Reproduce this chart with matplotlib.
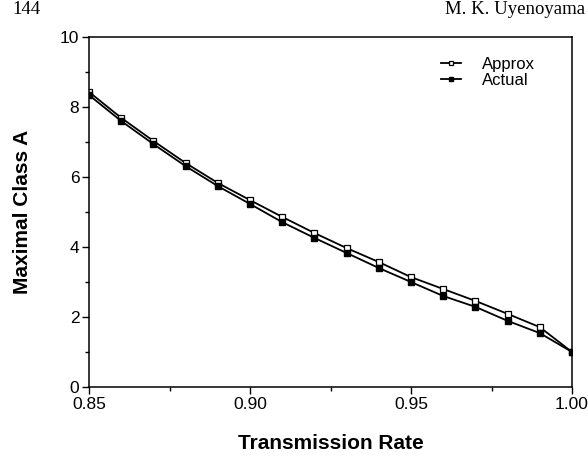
import numpy as np
import matplotlib
matplotlib.use("Agg")
import matplotlib.pyplot as plt
from matplotlib.ticker import MultipleLocator

plt.rcParams["font.family"] = ["Liberation Sans", "DejaVu Sans"]

# transmission rate vs maximal class A
rate = [0.85, 0.86, 0.87, 0.88, 0.89, 0.90, 0.91, 0.92,
        0.93, 0.94, 0.95, 0.96, 0.97, 0.98, 0.99, 1.00]
approx = [8.43, 7.69, 7.03, 6.40, 5.83, 5.34, 4.86, 4.40,
          3.97, 3.57, 3.14, 2.80, 2.46, 2.09, 1.71, 1.00]
actual = [8.34, 7.60, 6.94, 6.31, 5.74, 5.23, 4.71, 4.26,
          3.83, 3.40, 3.00, 2.60, 2.29, 1.89, 1.54, 1.00]

fig = plt.figure(figsize=(5.88, 4.66), dpi=100)
ax = fig.add_axes([89 / 588, 1 - 387 / 466, 483 / 588, 350 / 466])

ax.plot(rate, approx, color="black", lw=1.3, marker="s", ms=4,
        mfc="white", mec="black", mew=0.9, label="Approx")
ax.plot(rate, actual, color="black", lw=1.3, marker="s", ms=4,
        mfc="black", mec="black", label="Actual")

ax.set_xlim(0.85, 1.00)
ax.set_ylim(0, 10)
ax.set_xticks([0.85, 0.90, 0.95, 1.00])
ax.set_xticklabels(["0.85", "0.90", "0.95", "1.00"])
ax.set_yticks([0, 2, 4, 6, 8, 10])
ax.xaxis.set_minor_locator(MultipleLocator(0.025))
ax.yaxis.set_minor_locator(MultipleLocator(1))
ax.tick_params(which="major", direction="out", length=5, width=1, labelsize=12.5, pad=2)
ax.tick_params(which="minor", direction="out", length=3, width=1)
for s in ax.spines.values():
    s.set_linewidth(1.1)

ax.set_xlabel("Transmission Rate", fontsize=15, fontweight="bold", labelpad=16)
ax.set_ylabel("Maximal Class A", fontsize=15, fontweight="bold", labelpad=20)

leg = ax.legend(loc="upper right", bbox_to_anchor=(0.955, 0.985), frameon=False,
                fontsize=12, handlelength=1.2, handletextpad=1.3, labelspacing=0.05,
                markerscale=0.8)

fig.text(12 / 588, 1 - 10 / 466, "144", family="Liberation Serif",
         fontsize=13.5, va="center", ha="left")
fig.text(585 / 588, 1 - 10 / 466, "M. K. Uyenoyama", family="Liberation Serif",
         fontsize=13.5, va="center", ha="right")

fig.savefig("out.png", dpi=100)
